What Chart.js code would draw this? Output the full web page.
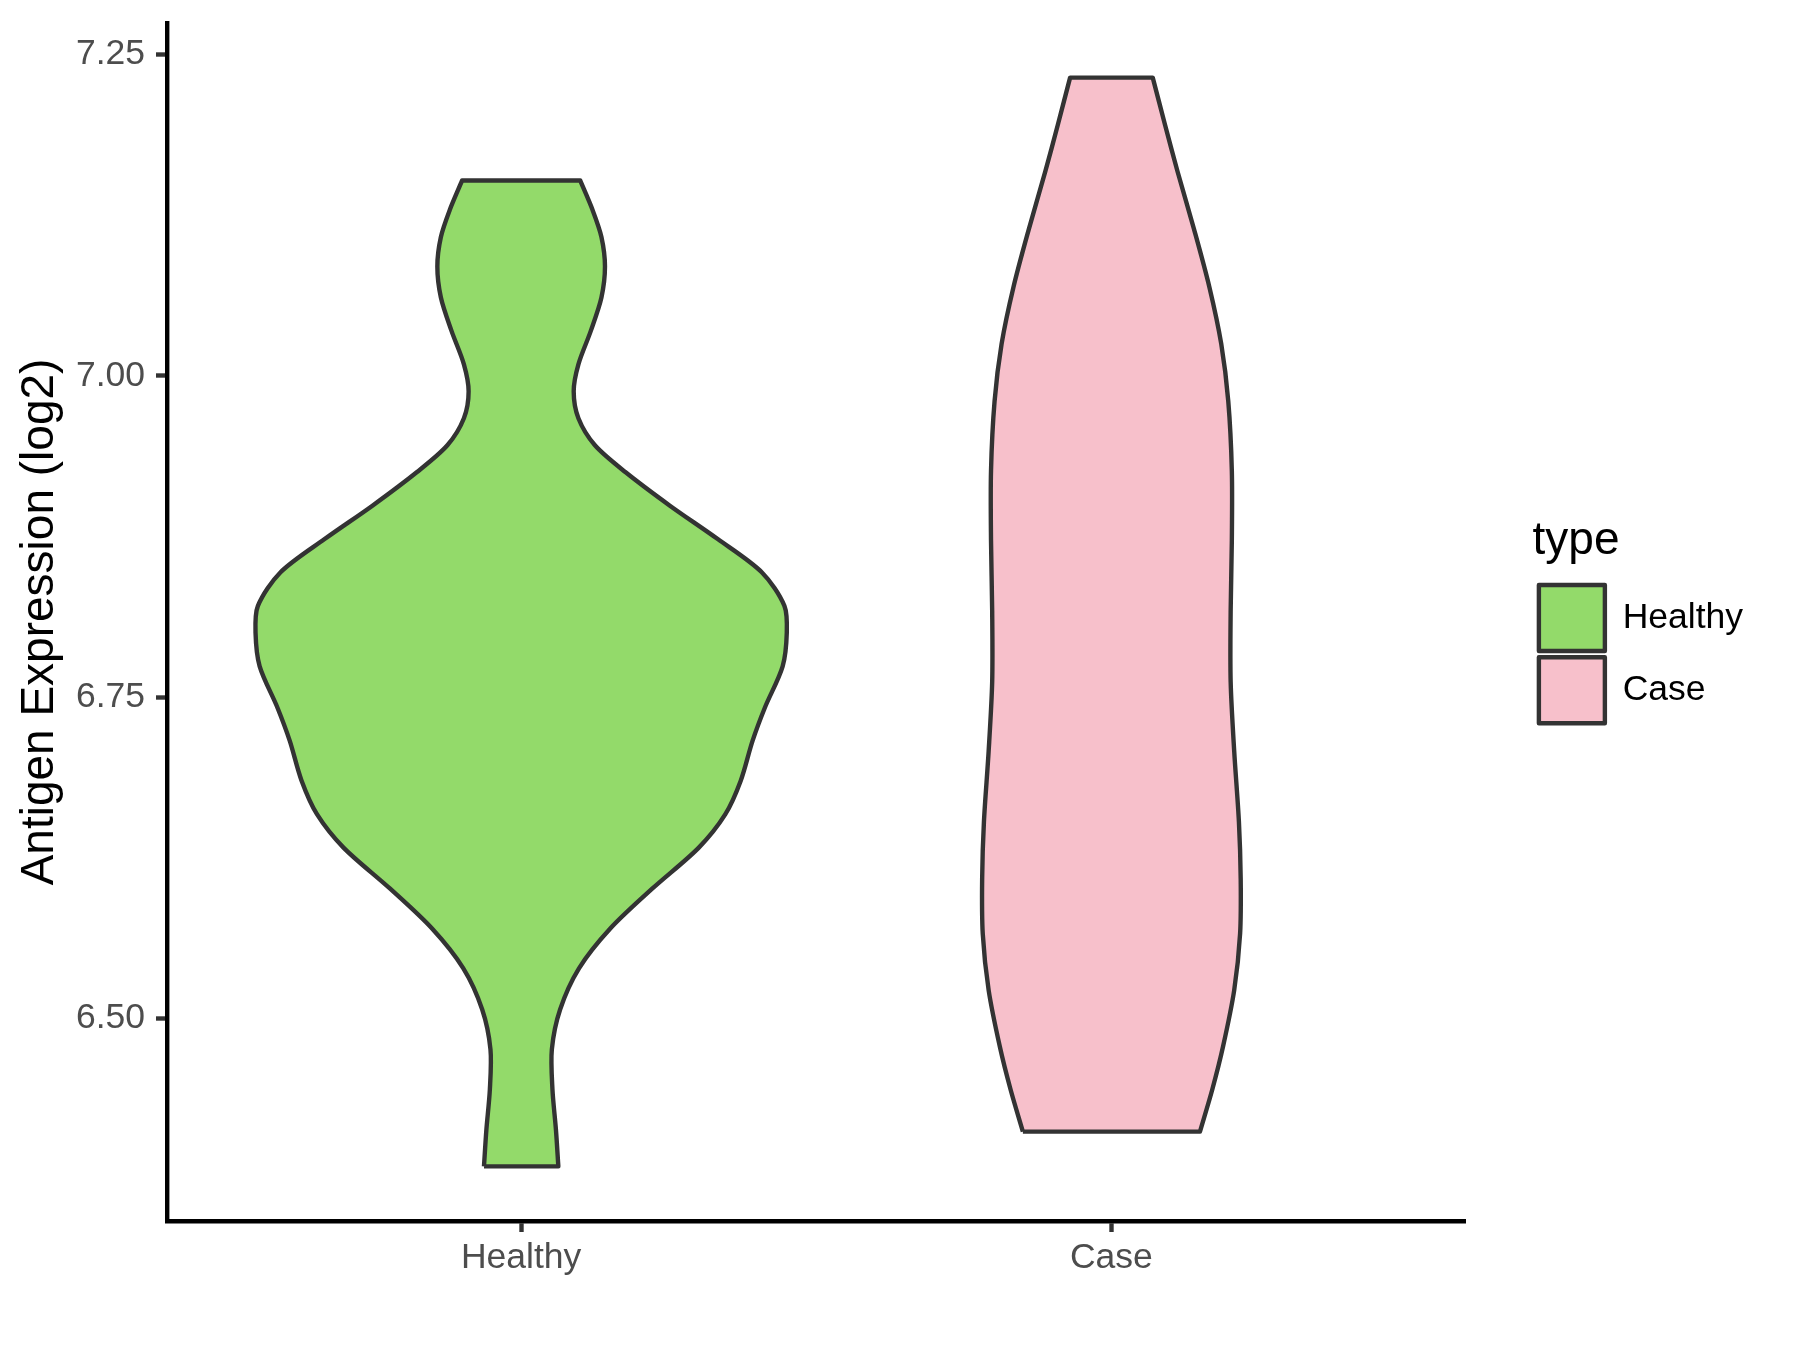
<!DOCTYPE html>
<html>
<head>
<meta charset="utf-8">
<script src="https://cdn.jsdelivr.net/npm/chart.js@4.4.1/dist/chart.umd.min.js"></script>
<style>
  body { margin: 0; background: #ffffff; }
  canvas { display: block; }
</style>
</head>
<body>
<canvas id="grafico" width="1800" height="1350"></canvas>
<script>
const categorias = ['Healthy', 'Case'];
const colores = ['#93DA6A', '#F7C0CB'];

const ticksY = [6.50, 6.75, 7.00, 7.25];
const etiquetasY = ['6.50', '6.75', '7.00', '7.25'];

// contorno de cada violin, de arriba hacia abajo (valor, medio ancho en unidades del eje x)
const yHealthy = [7.152, 7.129, 7.108, 7.085, 7.061, 7.035, 7.009, 6.988, 6.967, 6.946, 6.925, 6.899,
  6.873, 6.847, 6.821, 6.800, 6.774, 6.742, 6.716, 6.685, 6.659, 6.633, 6.601, 6.570, 6.539, 6.507,
  6.476, 6.445, 6.413, 6.385];
const anchoHealthy = [0.100, 0.121, 0.136, 0.142, 0.136, 0.118, 0.097, 0.089, 0.097, 0.125, 0.177, 0.252,
  0.333, 0.408, 0.446, 0.450, 0.443, 0.413, 0.392, 0.372, 0.346, 0.301, 0.222, 0.151, 0.098, 0.066,
  0.052, 0.053, 0.059, 0.063];

const yCase = [7.232, 7.195, 7.159, 7.114, 7.069, 7.025, 6.980, 6.926, 6.872, 6.817, 6.762, 6.708,
  6.653, 6.609, 6.566, 6.522, 6.478, 6.445, 6.412];
const anchoCase = [0.070, 0.091, 0.112, 0.140, 0.166, 0.186, 0.198, 0.204, 0.204, 0.202, 0.202, 0.208,
  0.216, 0.219, 0.218, 0.208, 0.189, 0.171, 0.150];

const yMin = 6.3425;
const yMax = 7.2745;

function contornoViolin(centro, valores, anchos) {
  const puntos = [];
  const n = valores.length;
  for (let i = n - 1; i >= 0; i--) {
    puntos.push({ x: centro - anchos[i], y: valores[i] });
  }
  // esquinas repetidas para que los bordes planos queden rectos
  puntos.push({ x: centro - anchos[0], y: valores[0] });
  puntos.push({ x: centro + anchos[0], y: valores[0] });
  for (let i = 0; i < n; i++) {
    puntos.push({ x: centro + anchos[i], y: valores[i] });
  }
  puntos.push({ x: centro + anchos[n - 1], y: valores[n - 1] });
  puntos.push({ x: centro - anchos[n - 1], y: valores[n - 1] });
  puntos.push({ x: centro - anchos[n - 1], y: valores[n - 1] });
  return puntos;
}

function crearDataset(indice, valores, anchos) {
  return {
    label: categorias[indice],
    data: contornoViolin(indice + 1, valores, anchos),
    backgroundColor: colores[indice],
    borderColor: '#333333',
    borderWidth: 4.4,
    borderJoinStyle: 'round',
    fill: 'shape',
    tension: 0.3,
    pointRadius: 0
  };
}

Chart.defaults.font.family = '"Liberation Sans", Arial, Helvetica, sans-serif';

const ctx = document.getElementById('grafico').getContext('2d');
const grafico = new Chart(ctx, {
  type: 'line',
  data: {
    datasets: [
      crearDataset(0, yHealthy, anchoHealthy),
      crearDataset(1, yCase, anchoCase)
    ]
  },
  options: {
    responsive: false,
    animation: false,
    events: [],
    layout: {
      padding: { top: 23, right: 47, bottom: 0, left: 0 }
    },
    scales: {
      x: {
        type: 'linear',
        min: 0.4,
        max: 2.6,
        afterBuildTicks: (escala) => {
          escala.ticks = categorias.map((c, i) => ({ value: i + 1 }));
        },
        afterFit: (escala) => {
          escala.height = 129;
          escala.paddingLeft = 0;
          escala.paddingRight = 0;
        },
        ticks: {
          callback: (valor) => categorias[valor - 1],
          color: '#4D4D4D',
          font: { size: 35.5 },
          padding: 4.5,
          maxRotation: 0
        },
        grid: {
          drawOnChartArea: false,
          tickLength: 11,
          tickColor: '#333333',
          tickWidth: 4.4
        },
        border: { color: '#000000', width: 4.4 }
      },
      y: {
        type: 'linear',
        min: yMin,
        max: yMax,
        afterBuildTicks: (escala) => {
          escala.ticks = ticksY.map(v => ({ value: v }));
        },
        afterFit: (escala) => {
          escala.width = 167;
          escala.paddingTop = 0;
          escala.paddingBottom = 0;
        },
        ticks: {
          callback: (valor) => etiquetasY[ticksY.indexOf(valor)],
          color: '#4D4D4D',
          font: { size: 35.5 },
          padding: 11
        },
        grid: {
          drawOnChartArea: false,
          tickLength: 11,
          tickColor: '#333333',
          tickWidth: 4.4
        },
        border: { color: '#000000', width: 4.4 },
        title: {
          display: true,
          text: 'Antigen Expression (log2)',
          color: '#000000',
          font: { size: 46 },
          padding: { top: 13, bottom: 0 }
        }
      },
      espacio: {
        type: 'linear',
        position: 'right',
        afterFit: (escala) => {
          escala.width = 67;
          escala.paddingTop = 0;
          escala.paddingBottom = 0;
        },
        ticks: { display: false },
        grid: { display: false },
        border: { display: false }
      }
    },
    plugins: {
      tooltip: { enabled: false },
      legend: {
        position: 'right',
        align: 'start',
        title: {
          display: true,
          text: 'type',
          position: 'start',
          color: '#000000',
          font: { size: 46 },
          padding: { top: 495.5, bottom: 5 }
        },
        labels: {
          boxWidth: 66,
          boxHeight: 66,
          padding: 6.3,
          color: '#000000',
          font: { size: 35.5 }
        }
      }
    }
  }
});
</script>
</body>
</html>
